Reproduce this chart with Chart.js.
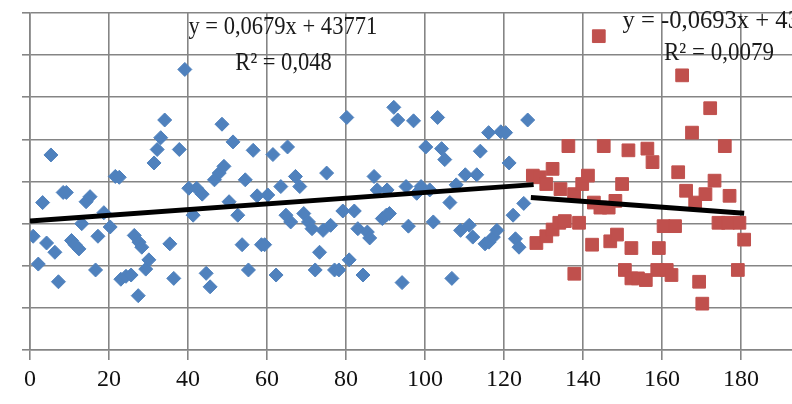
<!DOCTYPE html>
<html>
<head>
<meta charset="utf-8">
<script src="https://cdn.jsdelivr.net/npm/chart.js@4.4.1/dist/chart.umd.min.js"></script>
<style>
  html, body { margin: 0; padding: 0; background: #fff; overflow: hidden; }
  #wrap { width: 830px; height: 404px; position: relative; }
</style>
</head>
<body>
<div id="wrap"><canvas id="chart"></canvas></div>
<script>
// série 1 (losanges bleus)
const blueX = [0.8, 2.1, 3.2, 4.2, 5.3, 6.3, 7.2, 8.4, 9.2, 10.5, 11.4, 12.4, 13.1, 14.2, 15.2, 16.6, 17.2, 18.7, 20.3, 21.6,
  22.6, 23.0, 24.3, 25.6, 26.4, 27.4, 27.6, 28.3, 29.3, 30.1, 31.4, 32.2, 33.1, 34.1, 35.4, 36.4, 37.8, 39.2, 40.2, 41.3,
  42.2, 43.6, 44.6, 45.6, 46.7, 47.9, 48.6, 49.1, 50.4, 51.4, 52.6, 53.7, 54.5, 55.3, 56.5, 57.5, 58.6, 59.4, 60.2, 61.5,
  62.3, 63.5, 64.8, 65.2, 66.0, 67.2, 68.3, 69.3, 70.5, 71.4, 72.2, 73.3, 74.2, 75.1, 76.1, 77.1, 78.2, 79.2, 80.2, 80.8,
  82.1, 83.0, 84.3, 85.4, 86.0, 87.1, 87.9, 89.2, 90.2, 90.4, 91.0, 92.1, 93.1, 94.2, 95.2, 95.8, 97.1, 97.9, 99.0, 100.2,
  101.2, 102.1, 103.2, 104.2, 105.0, 106.3, 106.8, 107.9, 109.0, 110.2, 111.2, 112.1, 113.1, 114.0, 115.2, 116.1, 116.2, 117.3, 118.2, 119.2,
  120.4, 121.3, 122.3, 122.9, 123.8, 125.0, 126.0]
const blueY = [43767.0, 43760.4, 43775.0, 43765.4, 43786.3, 43763.2, 43756.2, 43777.4, 43777.4, 43766.0, 43765.0, 43764.0, 43770.0, 43775.2, 43776.4, 43759.0, 43767.0, 43772.6, 43769.2, 43781.2,
  43781.0, 43756.8, 43757.5, 43757.8, 43767.2, 43752.9, 43765.6, 43764.4, 43759.2, 43761.4, 43784.4, 43787.6, 43790.4, 43794.6, 43765.2, 43757.0, 43787.6, 43806.6, 43778.4, 43772.0,
  43778.4, 43777.0, 43758.2, 43755.0, 43780.4, 43782.0, 43793.6, 43783.6, 43775.2, 43789.4, 43772.0, 43765.0, 43780.4, 43759.0, 43787.4, 43776.6, 43765.0, 43765.0, 43776.8, 43786.4,
  43757.8, 43778.8, 43772.0, 43788.2, 43770.4, 43781.2, 43778.8, 43772.4, 43770.4, 43768.8, 43759.0, 43763.2, 43768.4, 43782.0, 43769.6, 43759.0, 43759.0, 43773.0, 43795.2, 43761.4,
  43773.0, 43768.8, 43757.8, 43768.0, 43766.6, 43781.2, 43778.0, 43771.2, 43772.0, 43778.0, 43772.4, 43797.6, 43794.6, 43756.0, 43778.8, 43769.4, 43794.4, 43777.2, 43778.8, 43788.2,
  43778.0, 43770.4, 43795.2, 43787.8, 43785.2, 43775.0, 43757.0, 43779.2, 43768.4, 43781.6, 43769.6, 43766.8, 43781.6, 43787.2, 43765.2, 43791.6, 43765.6, 43766.8, 43768.4, 43791.8,
  43791.6, 43784.4, 43772.0, 43766.4, 43764.4, 43774.8, 43794.6]

// série 2 (carrés rouges)
const redX = [127.3, 128.2, 129.0, 130.7, 130.7, 132.3, 132.3, 134.0, 134.3, 135.4, 136.3, 137.75, 137.8, 139.0, 139.8, 141.25, 142.3, 142.75, 144.0, 144.4,
  145.25, 146.5, 146.9, 148.2, 148.6, 149.9, 150.6, 151.5, 152.25, 152.25, 153.9, 155.9, 156.3, 157.6, 158.8, 159.2, 160.4, 161.2, 162.4, 163.3,
  164.1, 165.1, 166.1, 167.6, 168.4, 169.4, 170.2, 171.0, 172.2, 173.3, 174.3, 175.9, 176.7, 177.1, 179.2, 179.6, 180.8]
const redY = [43781.4, 43765.4, 43781.0, 43779.4, 43767.0, 43783.0, 43768.6, 43770.2, 43778.2, 43770.6, 43788.4, 43777.0, 43758.1, 43770.2, 43779.4, 43781.4, 43765.0, 43775.0, 43814.5, 43773.8,
  43788.4, 43773.8, 43765.8, 43775.4, 43767.4, 43779.4, 43759.0, 43787.4, 43764.2, 43757.0, 43757.0, 43756.6, 43787.8, 43784.6, 43759.0, 43764.2, 43769.4, 43759.0, 43757.8, 43769.4,
  43782.2, 43805.2, 43777.8, 43791.6, 43775.0, 43756.2, 43751.0, 43777.0, 43797.4, 43780.2, 43770.2, 43788.4, 43770.2, 43776.6, 43759.0, 43770.2, 43766.2]

// courbes de tendance (y = a*x + b)
const blueSlope = 0.0679
const blueIntercept = 43770.6
const blueRange = [0, 127.5]
const redSlope = -0.0693
const redIntercept = 43785
const redRange = [126.8, 180.8]

const blueEquation = ["y = 0,0679x + 43771", "R² = 0,048"]
const redEquation = ["y = -0,0693x + 43785", "R² = 0,0079"]

// axes
const xTicks = [0, 20, 40, 60, 80, 100, 120, 140, 160, 180]
const yMin = 43740
const yMax = 43820
const yStep = 10

function toPoints(xs, ys) {
  return xs.map((x, i) => ({ x: x, y: ys[i] }))
}

function trendPoints(slope, intercept, range) {
  return range.map(x => ({ x: x, y: slope * x + intercept }))
}

// texte des équations (police un peu haute comme dans l'original)
function drawLabel(ctx, text, x, y, align, sx) {
  ctx.save()
  ctx.translate(x, y)
  ctx.scale(sx, 1.1)
  ctx.textAlign = align
  ctx.fillText(text, 0, 0)
  ctx.restore()
}

const equationLabels = {
  id: "equationLabels",
  afterDatasetsDraw(chart) {
    const ctx = chart.ctx
    const xs = chart.scales.x
    const ys = chart.scales.y
    ctx.save()
    ctx.fillStyle = "#1a1a1a"
    ctx.font = "23px 'Liberation Serif', 'Times New Roman', serif"
    ctx.textBaseline = "middle"
    drawLabel(ctx, blueEquation[0], xs.getPixelForValue(64), ys.getPixelForValue(43816.7), "center", 0.98)
    drawLabel(ctx, blueEquation[1], xs.getPixelForValue(64.2), ys.getPixelForValue(43808.1), "center", 0.98)
    drawLabel(ctx, redEquation[0], xs.getPixelForValue(150), ys.getPixelForValue(43817.9), "left", 1.07)
    drawLabel(ctx, redEquation[1], xs.getPixelForValue(160.5), ys.getPixelForValue(43810.4), "left", 1.0)
    ctx.restore()
  }
}

new Chart(document.getElementById("chart"), {
  type: "scatter",
  data: {
    datasets: [
      {
        data: trendPoints(blueSlope, blueIntercept, blueRange),
        showLine: true,
        borderColor: "#000",
        borderWidth: 5,
        pointRadius: 0,
        order: 0,
      },
      {
        data: trendPoints(redSlope, redIntercept, redRange),
        showLine: true,
        borderColor: "#000",
        borderWidth: 5,
        pointRadius: 0,
        order: 0,
      },
      {
        data: toPoints(blueX, blueY),
        pointStyle: "rectRot",
        pointRadius: 7,
        backgroundColor: "#4f81bd",
        borderColor: "#4f81bd",
        borderWidth: 1,
        order: 2,
      },
      {
        data: toPoints(redX, redY),
        pointStyle: "rect",
        pointRadius: 9,
        backgroundColor: "#c0504d",
        borderColor: "#c0504d",
        borderWidth: 1,
        order: 1,
      },
    ],
  },
  options: {
    responsive: true,
    maintainAspectRatio: false,
    animation: false,
    layout: { padding: { top: 13, right: 0, left: 0, bottom: 0 } },
    plugins: { legend: { display: false }, tooltip: { enabled: false } },
    scales: {
      x: {
        type: "linear",
        min: 0,
        max: 200,
        afterBuildTicks: (scale) => { scale.ticks = xTicks.map(v => ({ value: v })) },
        afterFit: (scale) => { scale.height = 54 },
        grid: { color: "#858585", lineWidth: 1.6, tickLength: 10 },
        border: { color: "#858585", width: 1.6 },
        ticks: {
          color: "#111",
          padding: 5,
          maxRotation: 0,
          font: { family: "'Liberation Serif', 'Times New Roman', serif", size: 24 },
        },
      },
      y: {
        min: yMin,
        max: yMax,
        afterFit: (scale) => { scale.width = 30 },
        grid: { color: "#858585", lineWidth: 1.6, tickLength: 8 },
        border: { color: "#858585", width: 1.6 },
        ticks: { stepSize: yStep, display: false },
      },
    },
  },
  plugins: [equationLabels],
})
</script>
</body>
</html>
